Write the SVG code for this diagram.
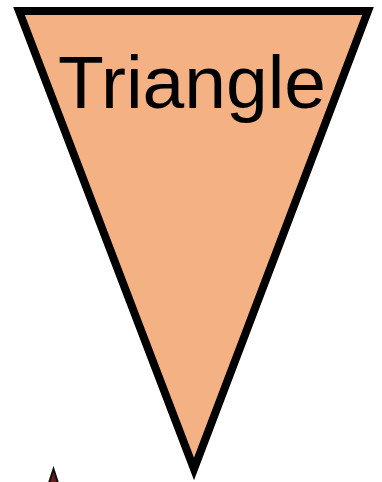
<svg xmlns="http://www.w3.org/2000/svg" width="382" height="482" viewBox="0 0 382 482">
<style>
.shape{fill:#f4b183;stroke:#000;stroke-width:8;stroke-linejoin:miter;stroke-miterlimit:10}
.label{font-family:"Liberation Sans",Arial,sans-serif;font-size:75px;fill:#000}
.arrow{fill:#6a1c1c;stroke:#111;stroke-width:2;stroke-linejoin:miter}
</style>
<g id="triangle">
<polygon class="shape" points="19,11 368,11 194,469"/>
<text class="label" x="192" y="108" text-anchor="middle">Triangle</text>
</g>
<g id="connectors">
<polygon class="arrow" points="53.5,469 59,486 48,486"/>
</g>
</svg>
